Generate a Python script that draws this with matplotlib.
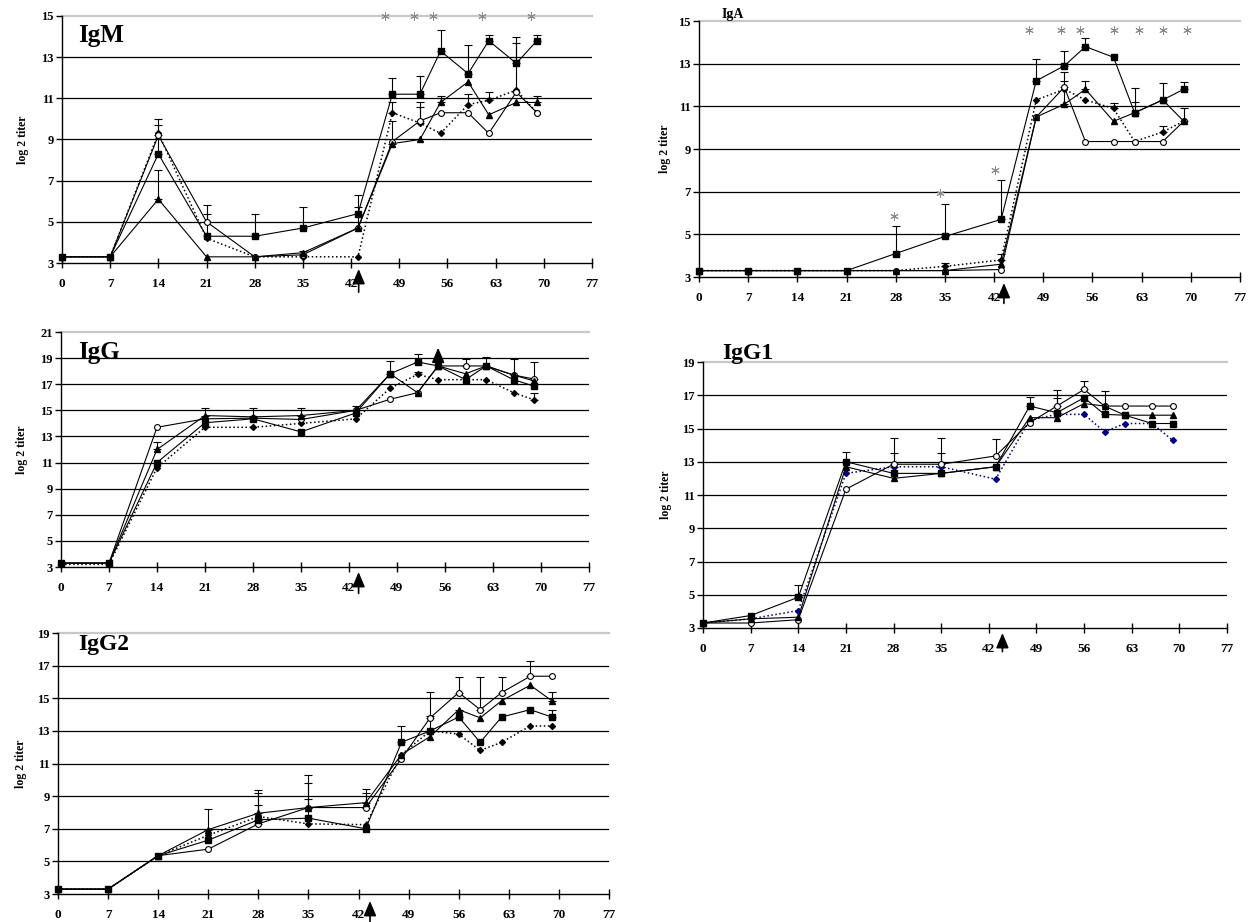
import numpy as np
import matplotlib
matplotlib.use('Agg')
import matplotlib.pyplot as plt

plt.rcParams['font.family'] = ['Liberation Serif', 'DejaVu Serif']
plt.rcParams['font.weight'] = 'bold'

# sampling days (the later bleeds shift a little between assays)
days_a = [0, 7, 14, 21, 28, 35, 43, 48, 52, 55, 59, 62, 66, 69]
days_b = [0, 7, 14, 21, 28, 35, 43, 48, 52, 56, 59, 62, 66, 69]
xticks = list(range(0, 78, 7))

# IgM
igm_sq = [3.3, 3.3, 8.3, 4.3, 4.3, 4.7, 5.4, 11.2, 11.2, 13.3, 12.2, 13.8, 12.7, 13.8]
igm_tri = [3.3, 3.3, 6.1, 3.3, 3.3, 3.5, 4.7, 8.8, 9.0, 10.8, 11.8, 10.2, 10.8, 10.8]
igm_circ = [3.3, 3.3, 9.2, 5.0, 3.3, 3.4, 4.7, 8.9, 9.9, 10.3, 10.3, 9.3, 11.3, 10.3]
igm_dia = [3.3, 3.3, 9.3, 4.2, 3.3, 3.3, 3.3, 10.3, 9.8, 9.3, 10.7, 10.9, 11.4, 10.3]
igm_err_sq = [0, 0, 1.4, 1.1, 1.1, 1.0, 0.9, 0.8, 0.9, 1.0, 1.4, 0.3, 1.3, 0.3]
igm_err_tri = [0, 0, 1.4, 0, 0, 0, 1.0, 1.1, 0, 0.3, 0, 0, 0, 0.3]
igm_err_circ = [0, 0, 0.8, 0.8, 0, 0.2, 0, 0, 0.9, 0, 0, 0, 2.4, 0]
igm_err_dia = [0, 0, 0, 0, 0, 0, 0, 0.5, 0.8, 0, 0.5, 0.4, 0, 0]
igm_star_x = [46.9, 51.1, 53.9, 61.0, 68.1]
igm_star_y = [15, 15, 15, 15, 15]

# IgA
iga_sq = [3.3, 3.3, 3.3, 3.3, 4.1, 4.9, 5.7, 12.2, 12.9, 13.8, 13.3, 10.7, 11.3, 11.8]
iga_tri = [3.3, 3.3, 3.3, 3.3, 3.3, 3.3, 3.6, 10.5, 11.1, 11.8, 10.3, 10.7, 11.3, 10.3]
iga_circ = [3.3, 3.3, 3.3, 3.3, 3.3, 3.3, 3.35, 10.5, 11.9, 9.35, 9.35, 9.35, 9.35, 10.3]
iga_dia = [3.3, 3.3, 3.3, 3.3, 3.3, 3.5, 3.8, 11.3, 11.8, 11.3, 10.9, 9.35, 9.8, 10.3]
iga_err_sq = [0, 0, 0, 0, 1.3, 1.5, 1.85, 1.0, 0.7, 0.4, 0, 1.15, 0.8, 0.35]
iga_err_tri = [0, 0, 0, 0, 0, 0, 0, 0, 1.1, 0.4, 0, 0.5, 0, 0.6]
iga_err_circ = [0, 0, 0, 0, 0, 0, 0, 0, 0.7, 0, 0, 0, 0, 0]
iga_err_dia = [0, 0, 0, 0, 0, 0.17, 0.26, 0, 0, 0, 0.25, 0, 0.3, 0]
iga_star_x = [27.7, 34.3, 42.1, 47.0, 51.5, 54.2, 59.0, 62.6, 66.1, 69.4]
iga_star_y = [5.85, 6.95, 8.0, 14.6, 14.6, 14.6, 14.6, 14.6, 14.6, 14.6]

# IgG
igg_sq = [3.3, 3.3, 11.0, 14.05, 14.35, 13.35, 14.8, 17.8, 18.7, 18.4, 17.35, 18.4, 17.35, 16.85]
igg_tri = [3.3, 3.3, 12.0, 14.6, 14.5, 14.6, 15.0, 17.8, 16.35, 18.4, 17.8, 18.4, 17.7, 17.25]
igg_circ = [3.3, 3.3, 13.7, 14.35, 14.4, 14.3, 15.0, 15.85, 16.35, 18.4, 18.4, 18.4, 17.7, 17.4]
igg_dia = [3.2, 3.2, 10.6, 13.7, 13.7, 14.0, 14.35, 16.7, 17.75, 17.35, 17.35, 17.35, 16.35, 15.8]
igg_err_sq = [0, 0, 0, 0, 0, 0, 0, 0.95, 0.6, 0, 0, 0, 0, 0]
igg_err_tri = [0, 0, 0.6, 0.6, 0.7, 0.6, 0.3, 0, 0, 0, 0, 0.7, 1.2, 0]
igg_err_circ = [0, 0, 0, 0, 0, 0, 0, 0, 0, 0, 0.5, 0, 0, 1.3]
igg_err_dia = [0, 0, 0, 0, 0, 0, 0, 0, 0.2, 0, 0, 0, 0, 0.55]

# IgG1
igg1_sq = [3.3, 3.75, 4.85, 13.0, 12.3, 12.3, 12.7, 16.35, 15.95, 16.85, 15.85, 15.8, 15.3, 15.3]
igg1_tri = [3.3, 3.55, 3.65, 12.7, 12.0, 12.3, 12.7, 15.65, 15.65, 16.5, 16.35, 15.8, 15.8, 15.8]
igg1_circ = [3.3, 3.3, 3.5, 11.35, 12.85, 12.85, 13.35, 15.35, 16.35, 17.35, 16.35, 16.35, 16.35, 16.35]
igg1_dia = [3.3, 3.55, 4.05, 12.3, 12.7, 12.7, 11.95, 15.5, 15.85, 15.85, 14.8, 15.3, 15.3, 14.3]
igg1_err_sq = [0, 0, 0.75, 0.6, 0, 0, 0, 0.55, 0.9, 0, 1.4, 0, 0, 0]
igg1_err_tri = [0] * 14
igg1_err_circ = [0, 0, 0, 0, 1.55, 1.55, 1.0, 0, 0.95, 0.5, 0, 0, 0, 0]
igg1_err_dia = [0, 0, 0, 0, 0.8, 0.8, 0, 0, 0, 0, 0, 0, 0, 0]

# IgG2
igg2_sq = [3.3, 3.3, 5.35, 6.3, 7.55, 7.65, 7.0, 12.3, 13.0, 13.85, 12.3, 13.85, 14.3, 13.85]
igg2_tri = [3.3, 3.3, 5.35, 6.95, 7.95, 8.3, 8.6, 11.55, 12.65, 14.3, 13.8, 14.85, 15.8, 14.85]
igg2_circ = [3.3, 3.3, 5.35, 5.75, 7.3, 8.3, 8.3, 11.3, 13.8, 15.35, 14.3, 15.35, 16.35, 16.35]
igg2_dia = [3.3, 3.3, 5.35, 6.6, 7.75, 7.3, 7.25, 11.55, 13.0, 12.8, 11.8, 12.3, 13.3, 13.3]
igg2_err_sq = [0, 0, 0, 0, 0.9, 1.15, 0, 1.0, 0.9, 0.45, 0, 0, 0, 0.4]
igg2_err_tri = [0, 0, 0, 1.25, 1.4, 2.0, 0.85, 0, 0, 0, 0, 0, 0, 0.55]
igg2_err_circ = [0, 0, 0, 0, 1.9, 1.5, 0.9, 0, 1.6, 0.95, 2.0, 0.95, 0.95, 0]
igg2_err_dia = [0] * 14


def up_err(ax, x, y, e):
  x = np.asarray(x); y = np.asarray(y); e = np.asarray(e)
  m = e > 0
  if m.any():
    ax.errorbar(x[m], y[m], yerr=[np.zeros(m.sum()), e[m]], fmt='none',
                ecolor='k', elinewidth=0.8, capsize=3, capthick=0.8, zorder=2)


def panel(ax, days, sq, tri, circ, dia, esq, etri, ecirc, edia, ytop,
          title, tx, ty, tsize, labx, arrow_day, tip, tail, dia_color='k'):
  ax.set_xlim(0, 77)
  ax.set_ylim(3, ytop)
  for v in range(5, ytop, 2):
    ax.axhline(v, color='k', lw=0.9, zorder=1)
  ax.axhline(ytop, color='#c8c8c8', lw=1.6, zorder=1, clip_on=False)

  up_err(ax, days, dia, edia)
  up_err(ax, days, circ, ecirc)
  up_err(ax, days, tri, etri)
  up_err(ax, days, sq, esq)
  ax.plot(days, dia, ':', color=dia_color, lw=1.1, marker='D', ms=3.0, zorder=3, clip_on=False)
  ax.plot(days, circ, '-', color='k', lw=0.8, marker='o', ms=4.2, mfc='white', mec='k', mew=0.8, zorder=4, clip_on=False)
  ax.plot(days, tri, '-', color='k', lw=0.8, marker='^', ms=5, zorder=5, clip_on=False)
  ax.plot(days, sq, '-', color='k', lw=0.8, marker='s', ms=4.5, zorder=6, clip_on=False)

  for s in ['top', 'right']:
    ax.spines[s].set_visible(False)
  ax.spines['left'].set_linewidth(1.0)
  ax.spines['bottom'].set_linewidth(1.0)
  ax.set_xticks(xticks)
  ax.set_yticks(list(range(3, ytop + 1, 2)))
  ax.tick_params(axis='x', direction='inout', length=7, width=1, pad=7, labelsize=9.5)
  ax.tick_params(axis='y', direction='out', length=4, width=1, pad=2, labelsize=9)
  ax.set_ylabel('log 2 titer', fontsize=8.5, fontweight='bold')
  ax.yaxis.set_label_coords(labx, 0.5)
  ax.text(tx, ty, title, transform=ax.transAxes, fontsize=tsize, fontweight='bold', va='baseline')

  # immunisation arrow under the axis
  ax.annotate('', xy=(arrow_day, 3), xytext=(0, -tail), textcoords='offset points',
              arrowprops=dict(arrowstyle='-|>,head_length=0.9,head_width=0.38', color='k',
                              lw=1.2, shrinkA=0, shrinkB=tip, mutation_scale=10),
              annotation_clip=False)


fig = plt.figure(figsize=(12.52, 9.22), dpi=100)
W, H = 1252.0, 922.0


def box(l, r, t, b):
  return [l / W, 1 - b / H, (r - l) / W, (b - t) / H]


ax_m = fig.add_axes(box(62, 592, 16, 263))
ax_a = fig.add_axes(box(699, 1240, 21, 277))
ax_g = fig.add_axes(box(61, 589, 332, 567))
ax_g1 = fig.add_axes(box(703, 1227, 362, 628))
ax_g2 = fig.add_axes(box(58, 609, 633, 894))

panel(ax_m, days_a, igm_sq, igm_tri, igm_circ, igm_dia,
      igm_err_sq, igm_err_tri, igm_err_circ, igm_err_dia, 15,
      'IgM', 0.03, 0.895, 18, -0.062, 43.1, 4.3, 21)
panel(ax_a, days_a, iga_sq, iga_tri, iga_circ, iga_dia,
      iga_err_sq, iga_err_tri, iga_err_circ, iga_err_dia, 15,
      'IgA', 0.042, 1.01, 10, -0.052, 43.4, 4.3, 19)
panel(ax_g, days_a, igg_sq, igg_tri, igg_circ, igg_dia,
      igg_err_sq, igg_err_tri, igg_err_circ, igg_err_dia, 21,
      'IgG', 0.032, 0.884, 18, -0.062, 43.4, -3.6, 19)
panel(ax_g1, days_b, igg1_sq, igg1_tri, igg1_circ, igg1_dia,
      igg1_err_sq, igg1_err_tri, igg1_err_circ, igg1_err_dia, 19,
      'IgG1', 0.036, 1.01, 17, -0.06, 44.0, 3.6, 17, dia_color='#000080')
panel(ax_g2, days_b, igg2_sq, igg2_tri, igg2_circ, igg2_dia,
      igg2_err_sq, igg2_err_tri, igg2_err_circ, igg2_err_dia, 19,
      'IgG2', 0.036, 0.935, 17, -0.057, 43.6, 5.0, 20)

# significance marks
ax_m.plot(igm_star_x, igm_star_y, linestyle='none', marker=(6, 2, 0), ms=6, mew=0.7,
          color='#8a8a8a', clip_on=False, zorder=7)
ax_a.plot(iga_star_x, iga_star_y, linestyle='none', marker=(6, 2, 0), ms=6, mew=0.7,
          color='#8a8a8a', clip_on=False, zorder=7)

# boost arrow on IgG
ax_g.annotate('', xy=(55, 19.8), xytext=(55, 18.4),
              arrowprops=dict(arrowstyle='-|>,head_length=0.9,head_width=0.38', color='k',
                              lw=1.2, shrinkA=0, shrinkB=0, mutation_scale=10),
              annotation_clip=False)

fig.savefig('out.png', dpi=100)
